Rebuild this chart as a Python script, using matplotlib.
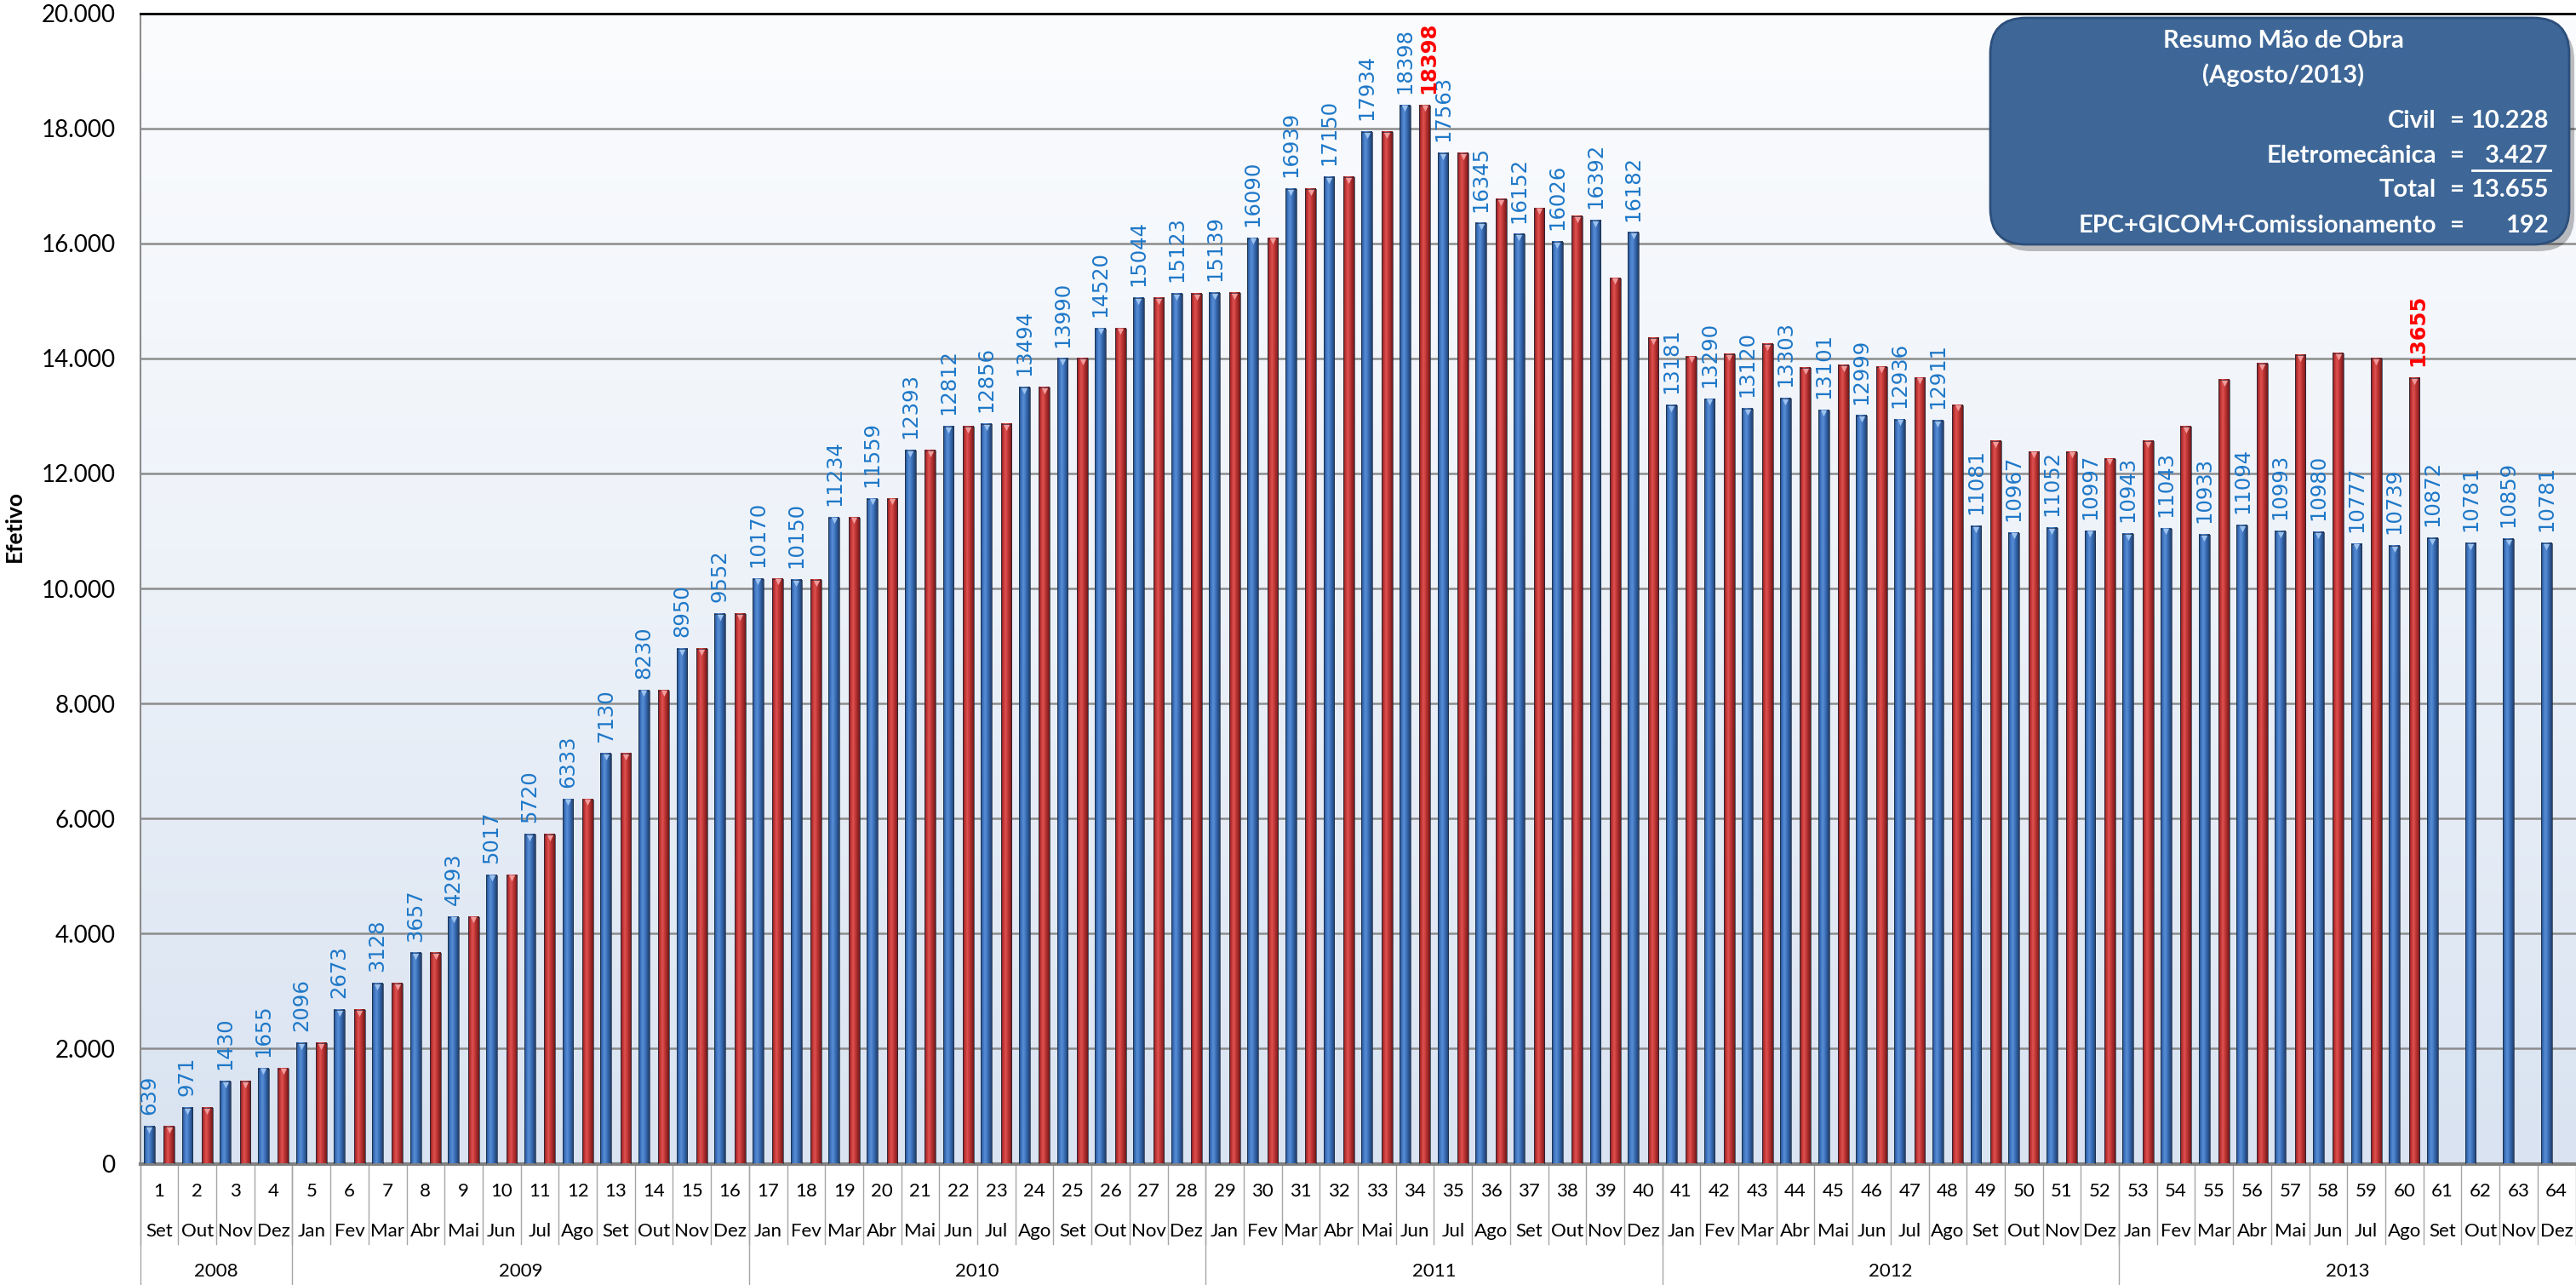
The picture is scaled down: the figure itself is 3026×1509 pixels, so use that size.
import numpy as np
import matplotlib
matplotlib.use("Agg")
import matplotlib.pyplot as plt
import matplotlib.ticker as mticker
from matplotlib.colors import LinearSegmentedColormap
from matplotlib.patches import FancyBboxPatch

# categories
month_idx = list(range(1, 65))
month_names = (["Set", "Out", "Nov", "Dez"]
               + ["Jan", "Fev", "Mar", "Abr", "Mai", "Jun", "Jul", "Ago", "Set", "Out", "Nov", "Dez"] * 5)
years = ["2008", "2009", "2010", "2011", "2012", "2013"]
year_months = [4, 12, 12, 12, 12, 12]

# planned headcount (blue, labelled)
previsto = [639, 971, 1430, 1655, 2096, 2673, 3128, 3657, 4293, 5017,
            5720, 6333, 7130, 8230, 8950, 9552, 10170, 10150, 11234, 11559,
            12393, 12812, 12856, 13494, 13990, 14520, 15044, 15123, 15139, 16090,
            16939, 17150, 17934, 18398, 17563, 16345, 16152, 16026, 16392, 16182,
            13181, 13290, 13120, 13303, 13101, 12999, 12936, 12911, 11081, 10967,
            11052, 10997, 10943, 11043, 10933, 11094, 10993, 10980, 10777, 10739,
            10872, 10781, 10859, 10781]

# actual headcount (red), up to Ago/2013
realizado = [639, 971, 1430, 1655, 2096, 2673, 3128, 3657, 4293, 5017,
             5720, 6333, 7130, 8230, 8950, 9552, 10170, 10150, 11234, 11559,
             12393, 12812, 12856, 13494, 13990, 14520, 15044, 15123, 15139, 16090,
             16939, 17150, 17934, 18398, 17563, 16767, 16608, 16472, 15392, 14351,
             14034, 14064, 14244, 13828, 13881, 13855, 13663, 13188, 12554, 12376,
             12376, 12257, 12554, 12812, 13624, 13901, 14059, 14079, 14000, 13655]

red_labels = {34: 18398, 60: 13655}

W, H = 3026, 1509
fig = plt.figure(figsize=(W / 100, H / 100), dpi=100)
fig.patch.set_facecolor("white")

ax_l, ax_r, ax_t, ax_b = 164.6, 3025.5, 15.5, 1366.5
ax = fig.add_axes([ax_l / W, 1 - ax_b / H, (ax_r - ax_l) / W, (ax_b - ax_t) / H])
ax_h = ax_b - ax_t

xlim = (0.5, 64.5)
ylim = (0, 20000)

# background gradient, white at top to pale blue at the bottom
bg = np.linspace(0, 1, 256).reshape(-1, 1)
bg_cmap = LinearSegmentedColormap.from_list("bg", ["#FBFCFE", "#EDF2F9", "#D9E3F1"])
ax.imshow(bg, extent=(xlim[0], xlim[1], ylim[0], ylim[1]), aspect="auto",
          cmap=bg_cmap, zorder=0, interpolation="bilinear")

blue_cmap = LinearSegmentedColormap.from_list(
    "b", ["#244A80", "#3D74BF", "#5A8FD5", "#3F76C1", "#2E5A98", "#223F6E"])
red_cmap = LinearSegmentedColormap.from_list(
    "r", ["#7E1E1E", "#C23434", "#DE5252", "#C43838", "#9E2828", "#6E1A1A"])
grad = np.linspace(0, 1, 32).reshape(1, -1)

bw = 0.286
off = 0.262

def draw_bars(xs, hs, cmap, tip):
    for x, h in zip(xs, hs):
        ax.imshow(grad, extent=(x - bw / 2, x + bw / 2, 0, h), aspect="auto",
                  cmap=cmap, zorder=3, interpolation="bilinear")
    ax.bar(xs, hs, width=bw, facecolor="none", edgecolor="#1A2A40", linewidth=0.5, zorder=4)
    ax.scatter(xs, np.array(hs) - 55, marker="v", s=28, color=tip, zorder=5, linewidths=0)

xb = np.array(month_idx) - off
xr = np.array(month_idx[:len(realizado)]) + off
draw_bars(xb, previsto, blue_cmap, "#9CC2F0")
draw_bars(xr, realizado, red_cmap, "#F29A9A")

for x, v in zip(xb, previsto):
    ax.annotate(str(v), (x, v), xytext=(0, 10), textcoords="offset points",
                rotation=90, ha="center", va="bottom", fontsize=17.5,
                color="#1E78C8", family="DejaVu Sans", zorder=6)
for m, v in red_labels.items():
    ax.annotate(str(v), (m + off, v), xytext=(3, 10), textcoords="offset points",
                rotation=90, ha="center", va="bottom", fontsize=17.5,
                color="#FF0000", fontweight="bold", family="DejaVu Sans", zorder=7)

ax.set_xlim(*xlim)
ax.set_ylim(*ylim)
ax.yaxis.set_major_locator(mticker.MultipleLocator(2000))
ax.yaxis.set_major_formatter(mticker.FuncFormatter(lambda v, p: f"{int(v):,}".replace(",", ".")))
ax.grid(axis="y", color="#8C8C8C", linewidth=1.8, zorder=1)
ax.set_axisbelow(True)
ax.tick_params(axis="y", length=0, pad=21, labelsize=20)
ax.set_xticks([])
for lab in ax.get_yticklabels():
    lab.set_family("Lato")
ax.spines["top"].set_color("black")
ax.spines["top"].set_linewidth(2)
ax.spines["right"].set_visible(False)
ax.spines["left"].set_color("#8C8C8C")
ax.spines["left"].set_linewidth(1.5)
ax.spines["bottom"].set_color("#808080")
ax.spines["bottom"].set_linewidth(3)
ax.set_ylabel("Efetivo", fontsize=19, fontweight="bold", family="Lato")
ax.yaxis.set_label_coords(-(ax_l - 29) / (ax_r - ax_l), (ax_b - 618) / ax_h)

# category table below the axis
tr = ax.get_xaxis_transform()
def fy(px):
    return -px / ax_h

for k in range(len(month_idx) + 1):
    ax.plot([0.5 + k, 0.5 + k], [0, fy(94)], transform=tr, color="#A6A6A6",
            linewidth=1, clip_on=False)
for x, n, m in zip(month_idx, month_idx, month_names):
    ax.text(x, fy(32.5), str(n), transform=tr, ha="center", va="center",
            fontsize=16, family="Lato")
    ax.text(x, fy(79), m, transform=tr, ha="center", va="center",
            fontsize=16, family="Lato")
start = 0
for y, n in zip(years, year_months):
    ax.plot([0.5 + start, 0.5 + start], [0, fy(145)], transform=tr, color="#A6A6A6",
            linewidth=1, clip_on=False)
    ax.text(0.5 + start + n / 2, fy(126.5), y, transform=tr, ha="center", va="center",
            fontsize=16, family="Lato")
    start += n

# summary box, in pixel coordinates
ov = fig.add_axes([0, 0, 1, 1])
ov.set_xlim(0, W)
ov.set_ylim(H, 0)
ov.axis("off")
ov.add_patch(FancyBboxPatch((2344, 29), 680, 266, boxstyle="round,pad=0,rounding_size=42",
                            facecolor="black", edgecolor="none", alpha=0.25))
ov.add_patch(FancyBboxPatch((2338, 21), 680, 266, boxstyle="round,pad=0,rounding_size=42",
                            facecolor="#3E6797", edgecolor="#2C4F7C", linewidth=2))
tkw = dict(color="white", fontweight="bold", fontsize=21, family="Lato", va="center")
ov.text(2682, 48, "Resumo Mão de Obra", ha="center", **tkw)
ov.text(2682, 88, "(Agosto/2013)", ha="center", **tkw)
rows = [("Civil", "10.228", 142), ("Eletromecânica", "3.427", 183),
        ("Total", "13.655", 223), ("EPC+GICOM+Comissionamento", "192", 265)]
for name, val, y in rows:
    ov.text(2862, y, name, ha="right", **tkw)
    ov.text(2886, y, "=", ha="center", **tkw)
    ov.text(2994, y, val, ha="right", **tkw)
ov.plot([2904, 2996], [200, 200], color="white", linewidth=2)

fig.savefig("out.png", dpi=100)
